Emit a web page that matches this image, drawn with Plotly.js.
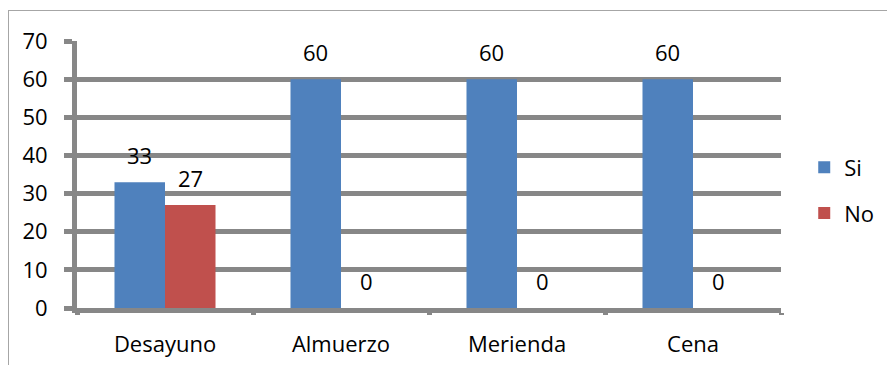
<!DOCTYPE html>
<html>
<head>
<meta charset="utf-8">
<script src="https://cdn.plot.ly/plotly-3.0.1.min.js"></script>
<style>
  html, body { margin: 0; padding: 0; background: #fff; overflow: hidden; }
  #frame { position: absolute; left: 8px; top: 10px; width: 960px; height: 420px;
           border: 1.5px solid #a6a6a6; box-sizing: border-box; }
  #chart { position: absolute; left: 0; top: 0; width: 887px; height: 365px; }
</style>
</head>
<body>
<div id="frame"></div>
<div id="chart"></div>
<script>
// Comidas del día: respuestas "Si" / "No"
const categories = ['Desayuno', 'Almuerzo', 'Merienda', 'Cena'];
const siValues = [33, 60, 60, 60];
const noValues = [27, 0, 0, 0];
const yTicks = [0, 10, 20, 30, 40, 50, 60, 70];

const colorSi = '#4F81BD';
const colorNo = '#C0504D';
const gridColor = '#878787';
const fontFamily = '"Open Sans", "Liberation Sans", sans-serif';
const fontSize = 22;

const W = 887, H = 365;
const margin = { l: 77, r: 106, t: 40.5, b: 57, autoexpand: false };
const bargap = 0.426;

// half a bar width in px, used to centre value labels over each bar
const catWidth = (W - margin.l - margin.r) / categories.length;
const halfBar = catWidth * (1 - bargap) / 4;

const traces = [
  { type: 'bar', name: 'Si', x: categories, y: siValues,
    marker: { color: colorSi }, legendgroup: 'si', hoverinfo: 'x+y' },
  { type: 'bar', name: 'No', x: categories, y: noValues,
    marker: { color: colorNo }, legendgroup: 'no', hoverinfo: 'x+y' }
];

const annotations = [];
[[siValues, -halfBar], [noValues, halfBar]].forEach(([vals, dx]) => {
  vals.forEach((v, i) => {
    annotations.push({
      x: categories[i], y: v, xref: 'x', yref: 'y',
      text: String(v), showarrow: false,
      xshift: dx, yshift: 27, yanchor: 'middle', xanchor: 'center',
      font: { family: fontFamily, size: fontSize, color: '#000' }
    });
  });
});

const layout = {
  width: W, height: H,
  margin: margin,
  paper_bgcolor: 'rgba(0,0,0,0)',
  plot_bgcolor: 'rgba(0,0,0,0)',
  barmode: 'group',
  bargap: bargap,
  bargroupgap: 0,
  font: { family: fontFamily, size: fontSize, color: '#000' },
  showlegend: true,
  legend: {
    x: 1.033, xanchor: 'left', y: 0.44, yanchor: 'middle',
    font: { family: fontFamily, size: fontSize, color: '#000' },
    tracegroupgap: 14, itemwidth: 30, bgcolor: 'rgba(0,0,0,0)'
  },
  xaxis: {
    type: 'category',
    showgrid: false,
    showline: true, linecolor: gridColor, linewidth: 5,
    ticks: 'outside', tickson: 'boundaries', ticklen: 2, tickwidth: 5, tickcolor: gridColor,
    ticklabelstandoff: 13,
    tickfont: { family: fontFamily, size: fontSize, color: '#000' },
    fixedrange: true
  },
  yaxis: {
    range: [0, 70],
    tickvals: yTicks,
    ticktext: yTicks.map(String),
    showgrid: true, gridcolor: gridColor, gridwidth: 5,
    zeroline: false,
    showline: true, linecolor: gridColor, linewidth: 5,
    ticks: 'outside', ticklen: 8, tickwidth: 5, tickcolor: gridColor,
    ticklabelstandoff: 12,
    tickfont: { family: fontFamily, size: fontSize, color: '#000' },
    fixedrange: true
  },
  annotations: annotations
};

Plotly.newPlot('chart', traces, layout, { displayModeBar: false, staticPlot: true });
</script>
</body>
</html>
